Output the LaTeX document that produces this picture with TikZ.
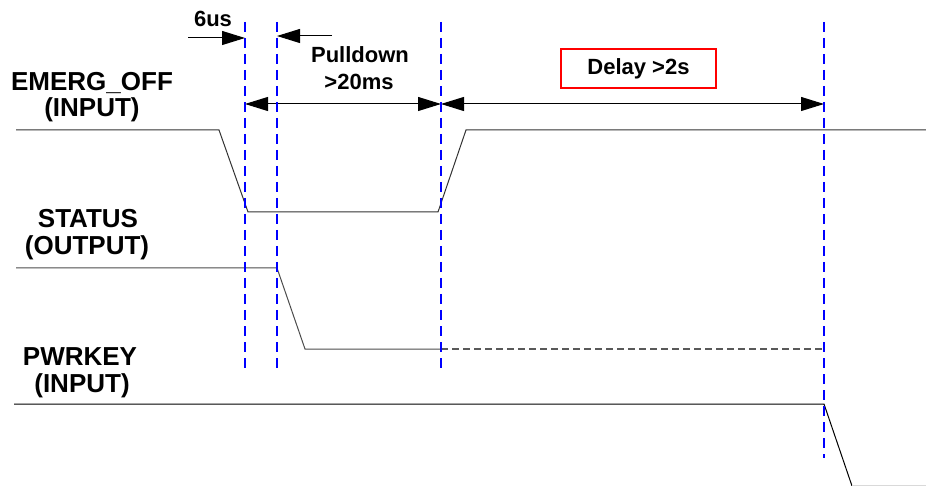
\documentclass[tikz,border=0pt]{standalone}
\usepackage{fontspec}
\setmainfont{Liberation Sans}
\usetikzlibrary{arrows.meta}
\definecolor{guideblue}{RGB}{0,0,255}
\tikzset{
  guide/.style={draw=guideblue, line width=0.55pt, dash pattern=on 5pt off 3pt},
  signal/.style={black!80, line width=0.5pt},
  dimarrow/.style={line width=0.5pt, -{Triangle[length=11.5pt,width=7pt]}},
  dimboth/.style={line width=0.5pt, {Triangle[length=11.5pt,width=7pt]}-{Triangle[length=11.5pt,width=7pt]}},
  siglabel/.style={font=\fontsize{13}{13}\selectfont\bfseries, inner sep=0pt, anchor=base},
  dimlabel/.style={font=\fontsize{11}{12}\selectfont\bfseries, inner sep=0pt, anchor=base},
  delaybox/.style={draw=red, line width=1pt, minimum width=77.5pt, minimum height=19.5pt,
    inner sep=0pt, font=\fontsize{11}{12}\selectfont\bfseries},
}
\begin{document}
\begin{tikzpicture}[x=0.5pt, y=-0.5pt]
  \useasboundingbox (0,0) rectangle (926,486);
  % Signal names
  \node[siglabel] (emerg) at (92,91) {EMERG\_OFF};
  \node[siglabel] (emergio) at (92,117) {(INPUT)};
  \node[siglabel] (status) at (88,228) {STATUS};
  \node[siglabel] (statusio) at (87,255) {(OUTPUT)};
  \node[siglabel] (pwrkey) at (80,365) {PWRKEY};
  \node[siglabel] (pwrkeyio) at (82,392) {(INPUT)};
  % Waveforms
  \draw[signal] (16,130) -- (219,130) -- (248,212) -- (438,212) -- (466,130) -- (926,130);
  \draw[signal, black!70] (16,268) -- (277,268) -- (305,349) -- (441,349);
  \draw[signal, black!65, line width=0.6pt, dash pattern=on 3.5pt off 2pt] (441,349) -- (824,349);
  \draw[signal, black] (14,404) -- (824,404) -- (852,486);
  \draw[signal, black!15] (852,485.5) -- (926,485.5);
  % Timing
  \coordinate (sixus from) at (188,38);
  \coordinate (sixus to) at (245,38);
  \coordinate (pull from) at (332,36);
  \coordinate (pull to) at (277,36);
  \coordinate (dim a) at (245,104);
  \coordinate (dim b) at (441,104);
  \coordinate (dim c) at (824,104);
  \draw[dimarrow] (sixus from) -- (sixus to);
  \draw[dimarrow] (pull from) -- (pull to);
  \draw[dimboth] (dim a) -- (dim b);
  \draw[dimboth] (dim b) -- (dim c);
  \node[dimlabel] (sixus) at (213,27) {6us};
  \node[dimlabel] (pull) at (360,63) {Pulldown};
  \node[dimlabel] (pullms) at (359,90) {>20ms};
  \node[delaybox] (delay) at (638.5,68.5) {Delay >2s};
  % Guide lines
  \coordinate (ga top) at (245,22);
  \coordinate (ga end) at (245,369);
  \coordinate (gb top) at (277,22);
  \coordinate (gb end) at (277,369);
  \coordinate (gc top) at (441,22);
  \coordinate (gc end) at (441,369);
  \coordinate (gd top) at (824,22);
  \coordinate (gd end) at (824,458);
  \draw[guide] (gd top) -- (gd end);
  \draw[guide] (gc top) -- (gc end);
  \draw[guide] (gb top) -- (gb end);
  \draw[guide] (ga top) -- (ga end);
\end{tikzpicture}
\end{document}
